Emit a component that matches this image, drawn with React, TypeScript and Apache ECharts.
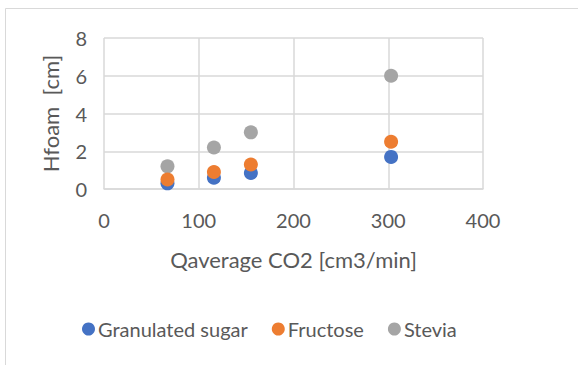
import React, { useEffect, useRef } from "react";
import * as echarts from "echarts";

// CO2 flow rate (cm3/min) for each measurement
const flowRates = [67, 116, 155, 303];

// Foam height (cm) per sweetener
const granulatedSugar = [0.3, 0.6, 0.85, 1.7];
const fructose = [0.5, 0.9, 1.3, 2.5];
const stevia = [1.2, 2.2, 3.0, 6.0];

const seriesNames = ["Granulated sugar", "Fructose", "Stevia"];
const seriesColors = ["#4472C4", "#ED7D31", "#A5A5A5"];

const FONT = "Lato, 'Open Sans', sans-serif";
const TEXT = "#595959";
const GRID = "#D9D9D9";

const pairs = (ys: number[]) => flowRates.map((x, i) => [x, ys[i]]);

export default function App() {
  const ref = useRef<HTMLDivElement>(null);

  useEffect(() => {
    if (!ref.current) return;
    const chart = echarts.init(ref.current, undefined, { renderer: "svg" });
    const values = [granulatedSugar, fructose, stevia];
    chart.setOption({
      animation: false,
      backgroundColor: "#fff",
      textStyle: { fontFamily: FONT },
      graphic: [
        {
          type: "rect",
          shape: { x: 5.5, y: 8.5, width: 800, height: 600 },
          style: { fill: "none", stroke: GRID, lineWidth: 1 },
          silent: true,
          z: 0,
        },
      ],
      grid: { left: 104, right: 95, top: 38, bottom: 176, containLabel: false },
      xAxis: {
        type: "value",
        min: 0,
        max: 400,
        interval: 100,
        name: "Qaverage CO2 [cm3/min]",
        nameLocation: "middle",
        nameGap: 59,
        nameTextStyle: { color: TEXT, fontSize: 22, fontFamily: FONT },
        axisLine: { show: true, lineStyle: { color: GRID, width: 1.5 } },
        axisTick: { show: false },
        axisLabel: { color: TEXT, fontSize: 20, margin: 21, fontFamily: FONT },
        splitLine: { show: true, lineStyle: { color: GRID, width: 1.5 } },
      },
      yAxis: {
        type: "value",
        min: 0,
        max: 8,
        interval: 2,
        name: "Hfoam  [cm]",
        nameLocation: "middle",
        nameGap: 43,
        nameRotate: 90,
        nameTextStyle: { color: TEXT, fontSize: 22, fontFamily: FONT },
        axisLine: { show: false },
        axisTick: { show: false },
        axisLabel: { color: TEXT, fontSize: 20, margin: 17, fontFamily: FONT },
        splitLine: { show: true, lineStyle: { color: GRID, width: 1.5 } },
      },
      legend: {
        left: 77,
        top: 314,
        icon: "circle",
        itemWidth: 13,
        itemHeight: 13,
        itemGap: 24,
        textStyle: { color: TEXT, fontSize: 20, fontFamily: FONT, padding: [0, 0, 0, -2] },
        data: seriesNames,
      },
      series: seriesNames.map((name, i) => ({
        name,
        type: "scatter",
        symbol: "circle",
        symbolSize: 14,
        itemStyle: { color: seriesColors[i], opacity: 1 },
        data: pairs(values[i]),
        z: 2 + (i === 2 ? 0 : i === 1 ? 2 : 1),
      })),
    });
    return () => chart.dispose();
  }, []);

  return (
    <div
      ref={ref}
      style={{ position: "absolute", left: 0, top: 0, width: 578, height: 365 }}
    />
  );
}
